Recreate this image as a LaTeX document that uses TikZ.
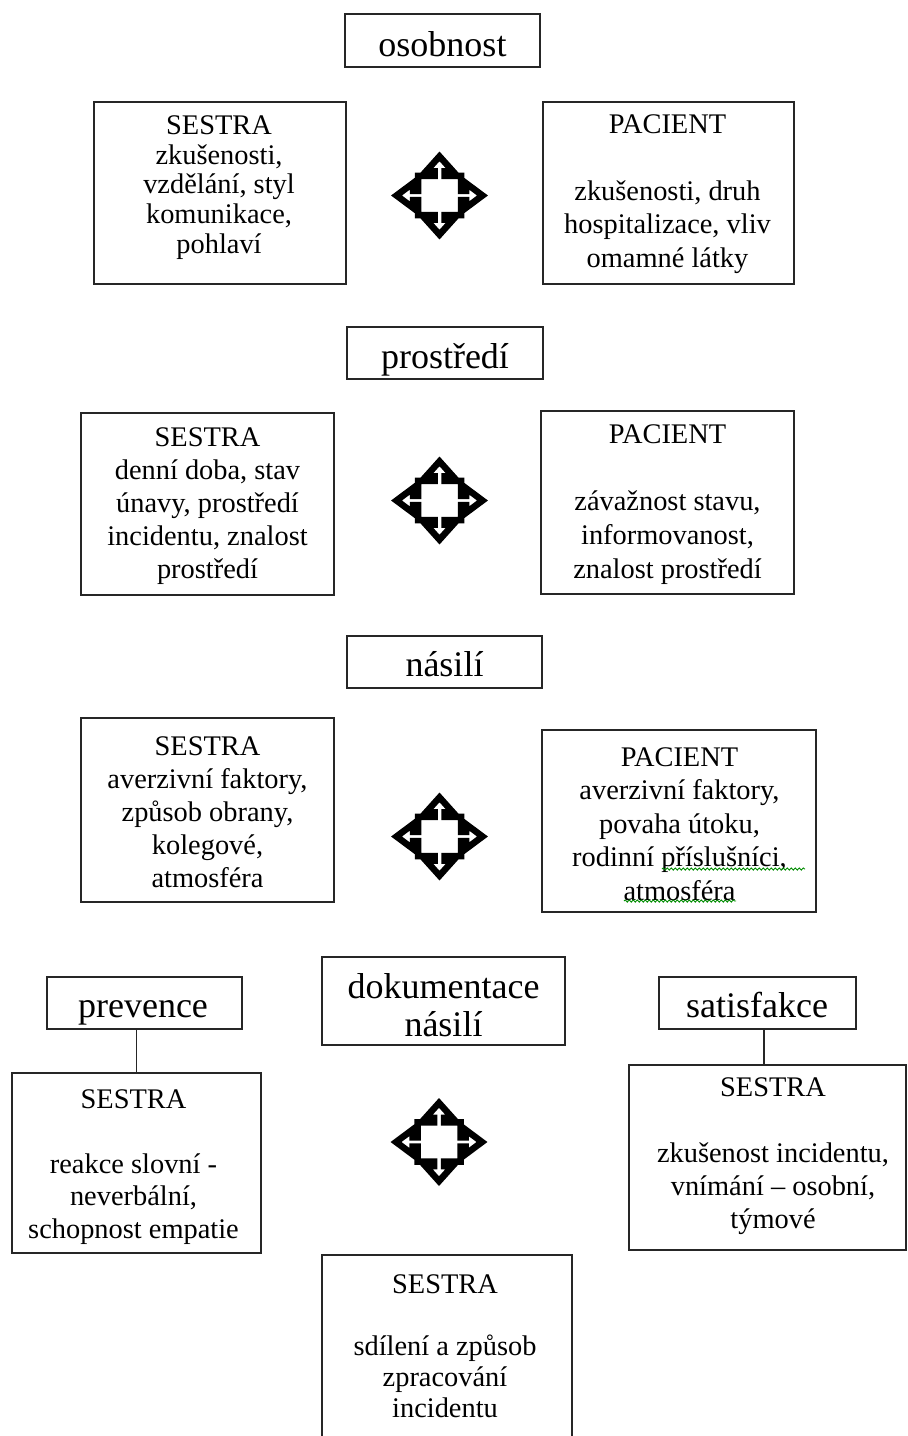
\documentclass[tikz,border=0pt]{standalone}
\usepackage{fontspec}
\setmainfont{Liberation Serif}
\usetikzlibrary{decorations.pathmorphing}
\tikzset{
  boxnode/.style={draw=black!85, line width=1.6pt, inner sep=0pt},
  body/.style={font=\fontsize{28.4}{#1}\selectfont, align=center, inner sep=0pt},
  head/.style={font=\fontsize{36}{38}\selectfont, align=center, inner sep=0pt},
  conn/.style={draw=black!85, line width=1.6pt},
  squiggle/.style={draw=green!55!black, line width=0.9pt, decorate,
    decoration={snake, amplitude=1.1pt, segment length=4pt}},
  quadarrow/.pic={
    \draw[line width=6.5pt, line join=miter, fill=white, yscale=0.91]
      (0,-43) -- (13.5,-26.5) -- (5,-26.5) -- (5,-21.5) -- (21.5,-21.5) -- (21.5,-5)
      -- (26.5,-5) -- (26.5,-13.5) -- (43,0) -- (26.5,13.5) -- (26.5,5) -- (21.5,5)
      -- (21.5,21.5) -- (5,21.5) -- (5,26.5) -- (13.5,26.5) -- (0,43) -- (-13.5,26.5)
      -- (-5,26.5) -- (-5,21.5) -- (-21.5,21.5) -- (-21.5,5) -- (-26.5,5) -- (-26.5,13.5)
      -- (-43,0) -- (-26.5,-13.5) -- (-26.5,-5) -- (-21.5,-5) -- (-21.5,-21.5) -- (-5,-21.5)
      -- (-5,-26.5) -- (-13.5,-26.5) -- cycle;
  }
}
\begin{document}
\begin{tikzpicture}[x=1pt,y=-1pt]
\clip (0,0) rectangle (908,1436);
\fill[white] (0,0) rectangle (908,1436);

% ---- row 1: osobnost
\node[boxnode, minimum width=195pt, minimum height=53pt] (hOsob) at (442.5,40.5) {};
\node[head, anchor=base] (tOsob) at (442.5,56) {osobnost};
\node[boxnode, minimum width=252pt, minimum height=182pt] (s1) at (220,193) {};
\node[body=29.7] (ts1) at (219,187.5) {SESTRA\\zkušenosti,\\vzdělání, styl\\komunikace,\\pohlaví};
\node[boxnode, minimum width=251pt, minimum height=182pt] (p1) at (668.5,193) {};
\node[body=33.4] (tp1) at (667.5,194) {PACIENT\\[33.4pt]zkušenosti, druh\\hospitalizace, vliv\\omamné látky};
\pic (qa1) at (439.5,195.5) {quadarrow};

% ---- row 2: prostředí
\node[boxnode, minimum width=196pt, minimum height=52pt] (hProst) at (445,353) {};
\node[head, anchor=base] (tProst) at (445,368) {prostředí};
\node[boxnode, minimum width=253pt, minimum height=182pt] (s2) at (207.5,504) {};
\node[body=33] (ts2) at (207.5,506) {SESTRA\\denní doba, stav\\únavy, prostředí\\incidentu, znalost\\prostředí};
\node[boxnode, minimum width=253pt, minimum height=183pt] (p2) at (667.5,502.5) {};
\node[body=33.7] (tp2) at (667.5,504.5) {PACIENT\\[33.7pt]závažnost stavu,\\informovanost,\\znalost prostředí};
\pic (qa2) at (439.5,500.5) {quadarrow};

% ---- row 3: násilí
\node[boxnode, minimum width=195pt, minimum height=52pt] (hNas) at (444.5,662) {};
\node[head, anchor=base] (tNas) at (444.5,676) {násilí};
\node[boxnode, minimum width=253pt, minimum height=184pt] (s3) at (207.5,810) {};
\node[body=33] (ts3) at (207.5,812) {SESTRA\\averzivní faktory,\\způsob obrany,\\kolegové,\\atmosféra};
\node[boxnode, minimum width=274pt, minimum height=182pt] (p3) at (679,821) {};
\node[body=33.4] (tp3) at (679.5,824) {PACIENT\\averzivní faktory,\\povaha útoku,\\rodinní příslušníci,\\atmosféra};
\draw[squiggle] (662,869) -- (805,869);
\draw[squiggle] (624,901) -- (736,901);
\pic (qa3) at (439.5,836.5) {quadarrow};

% ---- row 4
\node[boxnode, minimum width=243pt, minimum height=88pt] (hDok) at (443.5,1001) {};
\node[head] (tDok) at (443.5,1005) {dokumentace\\násilí};
\node[boxnode, minimum width=195pt, minimum height=52pt] (hPrev) at (144.5,1003) {};
\node[head, anchor=base] (tPrev) at (143,1017) {prevence};
\node[boxnode, minimum width=197pt, minimum height=52pt] (hSat) at (757.5,1003) {};
\node[head, anchor=base] (tSat) at (757,1017) {satisfakce};

\node[boxnode, minimum width=249pt, minimum height=180pt] (s4) at (136.5,1163) {};
\node[body=32.5] (ts4) at (133.5,1167) {SESTRA\\[32.5pt]reakce slovní -\\neverbální,\\schopnost empatie};
\node[boxnode, minimum width=277pt, minimum height=185pt] (s5) at (767.5,1157.5) {};
\node[body=33] (ts5) at (773,1156) {SESTRA\\[33pt]zkušenost incidentu,\\vnímání – osobní,\\týmové};
\node[boxnode, minimum width=250pt, minimum height=195pt] (s6) at (447,1352.5) {};
\node[body=31] (ts6) at (445,1346) {SESTRA\\[31pt]sdílení a způsob\\zpracování\\incidentu};
\pic (qa4) at (439,1142) {quadarrow};

\draw[conn] (s4.north) -- (s4.north |- hPrev.south);
\draw[conn] ([xshift=-3.5pt]s5.north) -- ([xshift=-3.5pt]s5.north |- hSat.south);
\end{tikzpicture}
\end{document}
